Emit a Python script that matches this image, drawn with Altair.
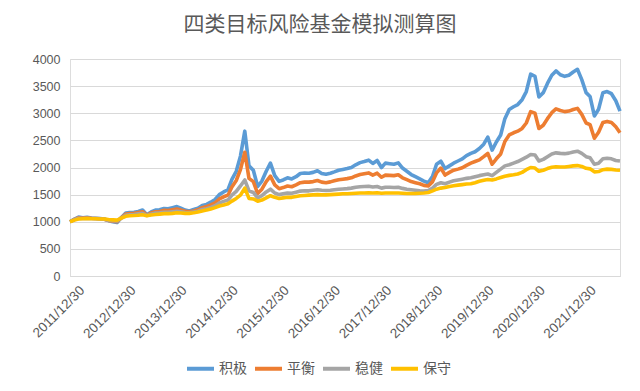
import altair as alt
import pandas as pd

# x categories: first trading day then month ends
dates = ["2011-12-30"] + [d.strftime("%Y-%m-%d") for d in pd.date_range("2012-01-31", periods=129, freq="ME")]

series_names = ["积极", "平衡", "稳健", "保守"]
series_colors = ["#5B9BD5", "#ED7D31", "#A5A5A5", "#FFC000"]

jiji = [1000, 1050, 1085, 1075, 1080, 1070, 1065, 1060, 1050, 1020,
        1000, 985, 1080, 1160, 1170, 1175, 1190, 1215, 1130, 1180,
        1215, 1220, 1245, 1240, 1260, 1280, 1250, 1215, 1200, 1225,
        1250, 1300, 1320, 1360, 1410, 1500, 1550, 1590, 1780, 1930,
        2210, 2670, 2030, 1950, 1650, 1750, 1930, 2080, 1850, 1745,
        1770, 1810, 1790, 1830, 1890, 1900, 1895, 1910, 1940, 1890,
        1875, 1895, 1920, 1950, 1965, 1980, 2000, 2050, 2090, 2110,
        2135, 2075, 2130, 2000, 2080, 2070, 2060, 2085, 1990, 1930,
        1870, 1830, 1790, 1750, 1720, 1840, 2060, 2115, 1980, 2030,
        2080, 2120, 2160, 2220, 2260, 2290, 2350, 2430, 2560, 2320,
        2470, 2600, 2900, 3070, 3120, 3160, 3250, 3400, 3720, 3680,
        3300, 3380, 3550, 3700, 3780, 3710, 3680, 3700, 3760, 3810,
        3620, 3380, 3310, 2950, 3075, 3380, 3400, 3360, 3230, 3040]

pingheng = [1000, 1045, 1075, 1070, 1075, 1065, 1060, 1055, 1045, 1025,
            1010, 1000, 1075, 1140, 1150, 1155, 1170, 1185, 1120, 1160,
            1185, 1190, 1210, 1205, 1220, 1235, 1215, 1195, 1185, 1200,
            1220, 1260, 1280, 1310, 1350, 1420, 1460, 1490, 1640, 1760,
            1960, 2280, 1800, 1740, 1520, 1600, 1740, 1840, 1680, 1610,
            1630, 1660, 1645, 1680, 1720, 1730, 1730, 1740, 1760, 1730,
            1720, 1735, 1755, 1775, 1785, 1795, 1810, 1845, 1870, 1885,
            1900, 1860, 1895, 1820, 1860, 1855, 1850, 1865, 1810, 1775,
            1740, 1720, 1700, 1670, 1660, 1740, 1900, 1990, 1860, 1910,
            1950, 1970, 1995, 2040, 2080, 2110, 2140, 2200, 2260, 2060,
            2160, 2250, 2480, 2600, 2640, 2670, 2720, 2820, 3030, 3000,
            2720, 2780, 2900, 3010, 3080, 3050, 3030, 3040, 3070, 3090,
            2980, 2820, 2790, 2540, 2650, 2830, 2850, 2830, 2750, 2640]

wenjian = [1000, 1040, 1065, 1060, 1065, 1060, 1055, 1050, 1045, 1030,
           1020, 1015, 1070, 1120, 1130, 1135, 1145, 1155, 1115, 1140,
           1160, 1165, 1175, 1175, 1185, 1195, 1185, 1170, 1165, 1180,
           1195, 1225, 1240, 1265, 1295, 1345, 1375, 1400, 1490, 1560,
           1660, 1770, 1570, 1540, 1440, 1480, 1550, 1600, 1530, 1500,
           1515, 1530, 1525, 1545, 1565, 1570, 1570, 1580, 1590, 1580,
           1575, 1580, 1590, 1600, 1605, 1610, 1620, 1635, 1645, 1650,
           1655, 1640, 1650, 1620, 1635, 1635, 1630, 1635, 1615, 1600,
           1590, 1580, 1570, 1565, 1575, 1620, 1690, 1720, 1700, 1730,
           1755, 1770, 1785, 1800, 1810, 1830, 1850, 1865, 1880, 1850,
           1910, 1970, 2030, 2050, 2080, 2110, 2150, 2190, 2240, 2230,
           2120, 2150, 2200, 2250, 2270, 2260, 2255, 2265, 2285, 2300,
           2260, 2200, 2180, 2060, 2080, 2160, 2170, 2160, 2130, 2120]

baoshou = [1000, 1030, 1050, 1055, 1060, 1055, 1055, 1050, 1050, 1040,
           1035, 1030, 1065, 1100, 1110, 1115, 1120, 1130, 1110, 1125,
           1135, 1140, 1150, 1150, 1155, 1165, 1160, 1155, 1155, 1165,
           1180, 1200, 1215, 1235, 1260, 1290, 1310, 1330, 1380, 1430,
           1490, 1620, 1430, 1420, 1380, 1400, 1440, 1480, 1450, 1430,
           1440, 1450, 1450, 1465, 1480, 1485, 1490, 1495, 1500, 1495,
           1495, 1500, 1505, 1510, 1515, 1515, 1520, 1525, 1530, 1530,
           1535, 1530, 1535, 1525, 1530, 1530, 1530, 1530, 1525, 1520,
           1520, 1520, 1525, 1530, 1540, 1570, 1600, 1620, 1630, 1650,
           1665, 1675, 1685, 1695, 1700, 1720, 1745, 1765, 1780, 1770,
           1790, 1815, 1840, 1855, 1865, 1880, 1910, 1960, 2000, 1990,
           1930, 1950, 1980, 2005, 2015, 2010, 2010, 2020, 2030, 2035,
           2020, 1985, 1975, 1920, 1925, 1960, 1970, 1965, 1955, 1950]

all_values = [jiji, pingheng, wenjian, baoshou]
rows = []
for name, vals in zip(series_names, all_values):
    for d, v in zip(dates, vals):
        rows.append({"date": d, "value": v, "series": name})
df = pd.DataFrame(rows)

tick_dates = [alt.DateTime(year=y, month=12, date=30, utc=True) for y in range(2011, 2022)]

chart = alt.Chart(df).mark_line(strokeWidth=3.6, strokeJoin="round").encode(
    x=alt.X("date:T",
            scale=alt.Scale(type="utc", nice=False),
            axis=alt.Axis(values=tick_dates, format="%Y/%m/%d", labelAngle=-45,
                          labelFontSize=13.5, labelColor="#595959", labelFont="Liberation Sans",
                          labelOverlap=False, labelBound=False, labelFlush=False,
                          grid=False, ticks=False, domain=True, domainColor="#D9D9D9",
                          labelPadding=7, labelOffset=7, title=None)),
    y=alt.Y("value:Q",
            scale=alt.Scale(domain=[0, 4000], nice=False),
            axis=alt.Axis(values=list(range(0, 4001, 500)), format="d", labelFontSize=12.5,
                          labelColor="#595959", labelFont="Liberation Sans",
                          grid=True, gridColor="#D9D9D9", domain=False, ticks=False,
                          labelPadding=10, title=None)),
    color=alt.Color("series:N",
                    scale=alt.Scale(domain=series_names, range=series_colors),
                    legend=alt.Legend(orient="none", legendX=115, legendY=294,
                                      direction="horizontal", title=None,
                                      symbolType="stroke", symbolSize=729,
                                      symbolStrokeWidth=4, labelFontSize=14,
                                      labelColor="#595959", labelFont="Noto Sans CJK SC",
                                      labelOffset=3, columnPadding=0)),
    order=alt.Order("series_order:Q")
).transform_calculate(
    series_order="indexof(['积极','平衡','稳健','保守'], datum.series)"
).properties(
    width=550,
    height=217,
    autosize=alt.AutoSizeParams(type="none"),
    padding={"left": 62, "top": 51, "right": 12, "bottom": 115},
    title=alt.TitleParams("四类目标风险基金模拟测算图", fontSize=21, font="Noto Sans CJK SC",
                          color="#595959", fontWeight="normal", anchor="middle",
                          dx=-25, offset=18)
).configure_view(stroke=None).configure(background="white")

chart.save("out.html", embed_options={"renderer": "svg", "actions": False})
